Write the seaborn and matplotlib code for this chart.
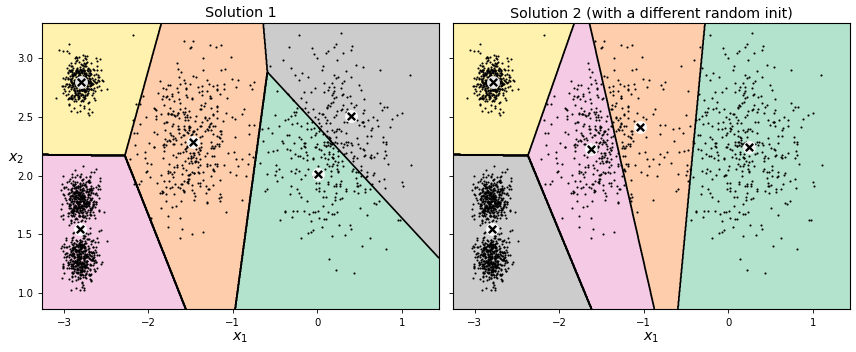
import numpy as np
import pandas as pd
import matplotlib
matplotlib.use("Agg")
import matplotlib.pyplot as plt
from matplotlib.colors import ListedColormap
import seaborn as sns

# ---- data ----
# point clouds: centre and spread of each blob (individual dots are not legible)
blob_center_x = [0.2, -1.5, -2.8, -2.8, -2.8]
blob_center_y = [2.3, 2.3, 1.8, 2.8, 1.3]
blob_std = [0.4, 0.3, 0.1, 0.1, 0.1]
blob_size = [400, 400, 400, 400, 400]

centroids_1_x = [-2.80, -1.47, 0.40, 0.01, -2.81]
centroids_1_y = [2.80, 2.29, 2.51, 2.01, 1.55]
region_colors_1 = ["#fff2ae", "#fdcdac", "#cccccc", "#b3e2cd", "#f4cae4"]

centroids_2_x = [-2.79, -1.62, -1.05, 0.24, -2.80]
centroids_2_y = [2.80, 2.23, 2.41, 2.24, 1.55]
region_colors_2 = ["#fff2ae", "#f4cae4", "#fdcdac", "#b3e2cd", "#cccccc"]

titles = ["Solution 1", "Solution 2 (with a different random init)"]
x_limits = (-3.26, 1.44)
y_limits = (0.865, 3.30)
x_ticks = [-3, -2, -1, 0, 1]
y_ticks = [1.0, 1.5, 2.0, 2.5, 3.0]

# ---- build the point cloud ----
rng = np.random.default_rng(7)
xs, ys = [], []
for cx, cy, sd, n in zip(blob_center_x, blob_center_y, blob_std, blob_size):
    xs.append(rng.normal(cx, sd, n))
    ys.append(rng.normal(cy, sd, n))
points = pd.DataFrame({"x1": np.concatenate(xs), "x2": np.concatenate(ys)})
points = points[(points.x1 > x_limits[0]) & (points.x1 < x_limits[1]) &
                (points.x2 > y_limits[0]) & (points.x2 < y_limits[1])]

plt.rcParams.update({
    "xtick.labelsize": 7.3, "ytick.labelsize": 7.3,
    "xtick.major.size": 2.6, "ytick.major.size": 2.6,
    "xtick.major.width": 0.6, "ytick.major.width": 0.6,
    "axes.linewidth": 0.8,
})

fig, axes = plt.subplots(1, 2, figsize=(8.56, 3.52), dpi=100, sharey=True)
fig.subplots_adjust(left=0.049, right=0.993, bottom=0.122, top=0.935, wspace=0.035)

gx = np.linspace(x_limits[0], x_limits[1], 900)
gy = np.linspace(y_limits[0], y_limits[1], 600)
GX, GY = np.meshgrid(gx, gy)

for ax, cxs, cys, cols, title in zip(
        axes, [centroids_1_x, centroids_2_x], [centroids_1_y, centroids_2_y],
        [region_colors_1, region_colors_2], titles):
    C = np.column_stack([cxs, cys])
    d = (GX[..., None] - C[:, 0]) ** 2 + (GY[..., None] - C[:, 1]) ** 2
    Z = d.argmin(axis=2)
    levels = np.arange(-0.5, len(cxs) + 0.5, 1)
    ax.contourf(GX, GY, Z, levels=levels, cmap=ListedColormap(cols))
    ax.contour(GX, GY, Z, levels=levels, colors="k", linewidths=1.2)
    sns.scatterplot(data=points, x="x1", y="x2", ax=ax, color="k", marker=".",
                    s=9, linewidth=0, legend=False, zorder=3)
    cent = pd.DataFrame({"x1": cxs, "x2": cys})
    sns.scatterplot(data=cent, x="x1", y="x2", ax=ax, marker="o", s=20,
                    color="w", edgecolor="w", linewidth=4.8, alpha=0.9, zorder=10,
                    legend=False)
    sns.scatterplot(data=cent, x="x1", y="x2", ax=ax, marker="x", s=28,
                    color="k", linewidth=1.7, zorder=11, legend=False)
    ax.set_xlim(*x_limits)
    ax.set_ylim(*y_limits)
    ax.set_xticks(x_ticks)
    ax.set_yticks(y_ticks)
    ax.set_title(title, fontsize=10.3, pad=4)
    ax.set_xlabel("$x_1$", fontsize=10.3, labelpad=2)
    ax.set_ylabel("")

axes[0].set_ylabel("$x_2$", fontsize=10.3, rotation=0, labelpad=1)
axes[1].tick_params(labelleft=False)

fig.savefig("out.png", dpi=100)
